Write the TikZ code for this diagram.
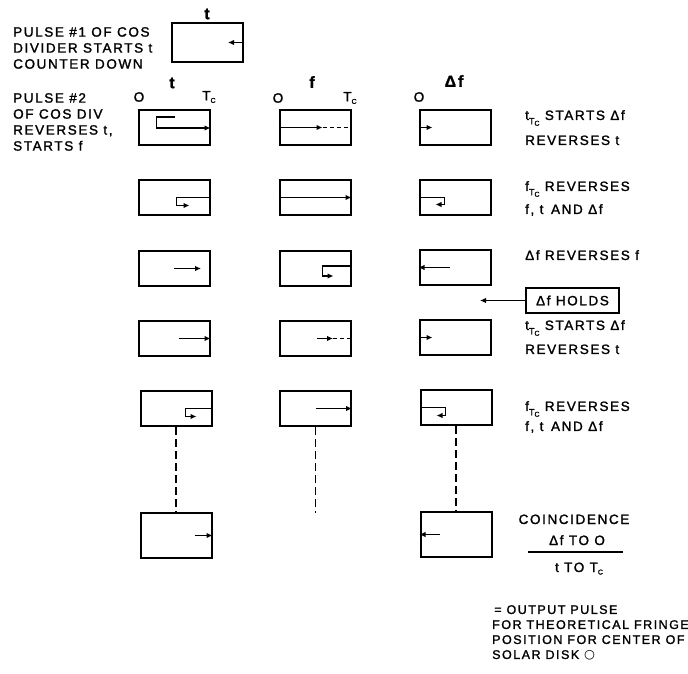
\documentclass[tikz,border=0pt]{standalone}
\usepackage{fontspec}
\setmainfont{Liberation Sans}[LetterSpace=12, FakeBold=1.5]
\newfontfamily\symfont{DejaVu Sans}
\usetikzlibrary{arrows.meta}

\newcommand{\Tc}{T\raisebox{-0.35ex}{\scriptsize C}}
\newcommand{\subTc}{\raisebox{-0.6ex}{\small T\raisebox{-0.3ex}{\scriptsize C}}}

\begin{document}
\begin{tikzpicture}[
x=1pt, y=-1pt,
counter/.style={rectangle, draw=black, line width=2pt, minimum width=71pt, minimum height=35pt, inner sep=0pt},
last/.style={counter, minimum height=45pt},
sig/.style={line width=1.9pt, -{Latex[length=6pt,width=5.5pt]}},
gap/.style={line width=1.9pt, dash pattern=on 4pt off 3pt},
link/.style={line width=1.9pt, dash pattern=on 8pt off 4pt},
note/.style={anchor=north west, align=left, inner sep=0pt, font=\fontsize{13.5}{16}\selectfont},
head/.style={inner sep=0pt, font=\fontsize{13.5}{15}\selectfont},
title/.style={inner sep=0pt, font=\bfseries\fontsize{16}{18}\selectfont},
]
\useasboundingbox (0,0) rectangle (688,674);

% left hand notes
\node[note] (pulse1) at (13,27) {PULSE \#1 OF COS\\DIVIDER STARTS t\\COUNTER DOWN};
\node[note] (pulse2) at (13,93) {PULSE \#2\\OF COS DIV\\REVERSES t,\\STARTS f};

% counter boxes
\node[counter, minimum height=39pt] (p1) at (207.5,42.5) {};
\node[title] (tp) at (207,14) {t};

\node[title] (tt) at (172,83) {t};
\node[head] (t0) at (139,97) {O};
\node[head] (tc) at (209,97) {\Tc};
\node[title] (ft) at (312,82) {f};
\node[head] (f0) at (278,98) {O};
\node[head] (fc) at (350,98) {\Tc};
\node[title] (dt) at (454,81) {Δf};
\node[head] (d0) at (419,97) {O};

\node[counter] (t1) at (174,127.5) {};
\node[counter] (f1) at (315,127.5) {};
\node[counter] (d1) at (455,127.5) {};
\node[counter] (t2) at (174,197.5) {};
\node[counter] (f2) at (315,197.5) {};
\node[counter] (d2) at (455,197.5) {};
\node[counter] (t3) at (174,268.5) {};
\node[counter] (f3) at (315,268.5) {};
\node[counter] (d3) at (455,267.5) {};
\node[counter] (t4) at (174,338.5) {};
\node[counter] (f4) at (315,338.5) {};
\node[counter] (d4) at (455,337.5) {};
\node[counter] (t5) at (176,408.5) {};
\node[counter] (f5) at (315.5,408.5) {};
\node[counter] (d5) at (456,407.5) {};
\node[last] (t6) at (176,535.5) {};
\node[last] (d6) at (456,534.5) {};
\coordinate (fend) at (315.5,513);

% right hand notes
\node[note] (n1) at (525,110) {t\subTc{} STARTS Δf\\[9pt]REVERSES t};
\node[note] (n2) at (525,181) {f\subTc{} REVERSES\\[7pt]f, t\, AND Δf};
\node[note] (n3) at (525,250) {Δf REVERSES f};
\node[note] (n4) at (525,320) {t\subTc{} STARTS Δf\\[8pt]REVERSES t};
\node[note] (n5) at (525,401) {f\subTc{} REVERSES\\[4pt]f, t\, AND Δf};
\node[counter, minimum width=93pt, minimum height=25pt, font=\fontsize{13.5}{15}\selectfont] (holds) at (572.5,300.5) {Δf HOLDS};
\coordinate (hold) at (480,300.5);

% coincidence
\node[head, anchor=base] (coin) at (574,524) {COINCIDENCE};
\node[head, anchor=base] (num) at (577,545) {Δf TO O};
\node[head, anchor=base] (den) at (579,572) {t TO \Tc};
\coordinate (bar) at (575.5,552);
\node[note, font=\fontsize{12.5}{15}\selectfont] (out) at (492,605) {\,= OUTPUT PULSE\\FOR THEORETICAL FRINGE\\POSITION FOR CENTER OF\\SOLAR DISK {\symfont ○}};

% t counter
\draw[sig] (p1.east) -- ++(-16,0);
\draw[sig] (t1.east) ++(-36,-10.5) -- ++(-18,0) -- ++(0,11) -- ++(54,0);
\draw[sig] (t2.east) -- ++(-34,0) -- ++(0,8) -- ++(13,0);
\draw[sig] (t3.center) -- ++(27,0);
\draw[sig] (t4.east) ++(-32,0) -- (t4.east);
\draw[sig] (t5.east) -- ++(-27,0) -- ++(0,8) -- ++(11,0);
\draw[sig] (t6.east) ++(-18,0) -- (t6.east);

% f counter
\draw[sig] (f1.west) -- ++(44,0);
\draw[gap] (f1.west) ++(44,0) -- (f1.east);
\draw[sig] (f2.west) -- (f2.east);
\draw[sig] (f3.east) ++(0,-2.5) -- ++(-29,0) -- ++(0,10) -- ++(11,0);
\draw[sig] (f4.center) ++(2,0) -- ++(16,0);
\draw[gap] (f4.center) ++(18,0) -- (f4.east);
\draw[sig] (f5.center) -- (f5.east);

% delta f counter
\draw[sig] (d1.west) -- ++(14,0);
\draw[sig] (d2.west) -- ++(26,0) -- ++(0,7) -- ++(-9,0);
\draw[sig] (d3.center) ++(-5,0) -- (d3.west);
\draw[sig] (d4.west) -- ++(14,0);
\draw[sig] (d5.west) -- ++(26,0) -- ++(0,8) -- ++(-9,0);
\draw[sig] (d6.center) ++(-16,0) -- (d6.west);

% links
\draw[link] (t5.south) -- (t6.north);
\draw[link] (f5.south) -- (fend);
\draw[link] (d5.south) -- (d6.north);
\draw[sig] (holds.west) -- (hold);
\draw[line width=1.9pt] (bar) +(-47.5,0) -- +(47.5,0);
\end{tikzpicture}
\end{document}
